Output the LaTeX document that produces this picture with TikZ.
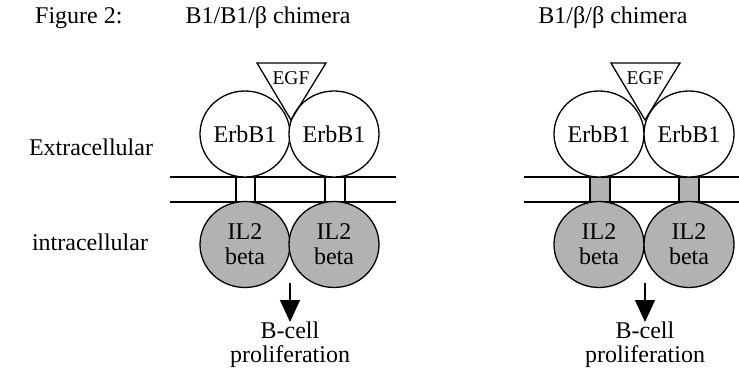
\documentclass[tikz,border=0pt]{standalone}
\usepackage{fontspec}
\setmainfont{Liberation Serif}
\usetikzlibrary{shapes.geometric,arrows.meta}
\tikzset{
  lbl/.style={font=\fontsize{24}{26}\selectfont, inner sep=0pt},
  outlbl/.style={font=\fontsize{24}{23.5}\selectfont, inner sep=0pt, align=center},
  upcell/.style={ellipse, draw, line width=1.3pt, fill=white, minimum width=90pt, minimum height=86pt, inner sep=0pt, font=\fontsize{24}{26}\selectfont},
  lowcell/.style={ellipse, draw, line width=1.3pt, fill=black!30, minimum width=90pt, minimum height=86pt, inner sep=0pt, align=center, font=\fontsize{24}{25}\selectfont},
  stemopen/.style={draw, line width=1.2pt, fill=white},
  stemfill/.style={draw, line width=1.2pt, fill=black!30},
  memb/.style={line width=1.2pt},
  egf/.style={draw, line width=1.3pt},
  egflbl/.style={font=\fontsize{19.5}{20}\selectfont, inner sep=0pt},
  prolarrow/.style={line width=1.3pt, -{Triangle[width=20pt,length=22pt]}}
}
\begin{document}
\begin{tikzpicture}[x=1pt,y=-1pt]
\useasboundingbox (0,0) rectangle (739,377);
% titles
\node[lbl, anchor=west] (fig) at (35,18) {Figure 2:};
\node[lbl] (t1) at (268,18) {B1/B1/β chimera};
\node[lbl] (t2) at (613,18) {B1/β/β chimera};
\node[lbl] (ext) at (91,147) {Extracellular};
\node[lbl] (int) at (90,242) {intracellular};

% ---------- left panel ----------
\draw[memb] (170,177) -- (396,177);
\draw[memb] (170,202) -- (396,202);
\draw[stemopen] (236,177) rectangle (255,202);
\draw[stemopen] (325,177) rectangle (345,202);
\node[upcell] (e1) at (245,134) {ErbB1};
\node[upcell] (e2) at (334,134) {ErbB1};
\node[lowcell] (b1) at (245,244.5) {IL2\\beta};
\node[lowcell] (b2) at (334,244.5) {IL2\\beta};
\draw[egf] (257,63) -- (326,63) -- (291,120) -- cycle;
\node[egflbl] (egf1) at (291,78) {EGF};
\coordinate (a1s) at (290,283);
\node[outlbl, anchor=north] (p1) at (290,322) {B-cell\\proliferation};
\draw[prolarrow] (a1s) -- (p1.north);

% ---------- right panel ----------
\draw[memb] (524,177) -- (739,177);
\draw[memb] (524,202) -- (739,202);
\draw[stemfill] (590,177) rectangle (610,202);
\draw[stemfill] (679,177) rectangle (699,202);
\node[upcell] (e3) at (599,134) {ErbB1};
\node[upcell] (e4) at (689,134) {ErbB1};
\node[lowcell] (b3) at (599,244.5) {IL2\\beta};
\node[lowcell] (b4) at (689,244.5) {IL2\\beta};
\draw[egf] (611,63) -- (680,63) -- (645,120) -- cycle;
\node[egflbl] (egf2) at (645,78) {EGF};
\coordinate (a2s) at (645,283);
\node[outlbl, anchor=north] (p2) at (645,322) {B-cell\\proliferation};
\draw[prolarrow] (a2s) -- (p2.north);
\end{tikzpicture}
\end{document}
